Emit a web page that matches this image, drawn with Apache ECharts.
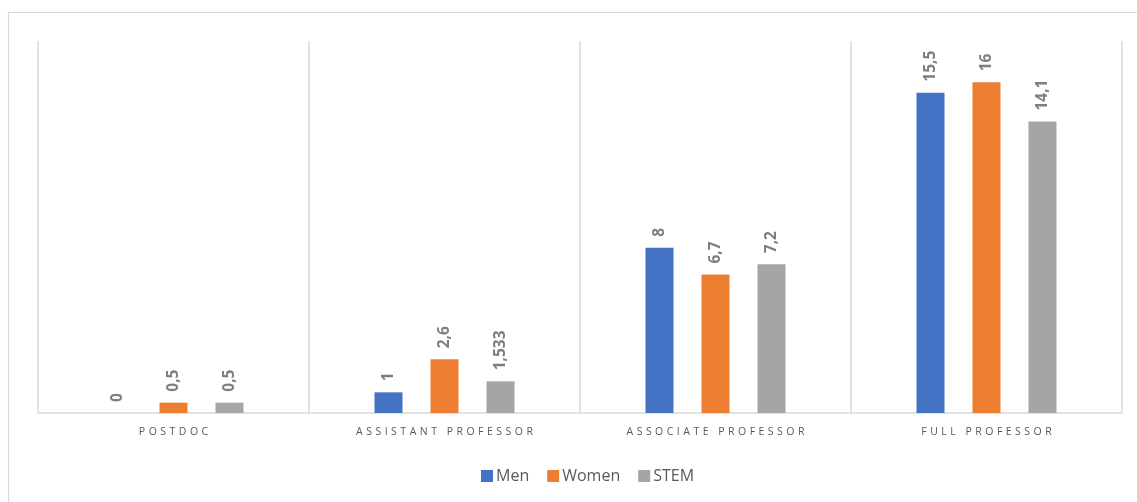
<!DOCTYPE html>
<html><head><meta charset="utf-8">
<script src="https://cdn.jsdelivr.net/npm/echarts@6/dist/echarts.min.js"></script>
<style>html,body{margin:0;padding:0;background:#fff}#c{width:1137px;height:502px}</style>
</head><body><div id="c"></div>
<script>
const categories = ['POSTDOC', 'ASSISTANT PROFESSOR', 'ASSOCIATE PROFESSOR', 'FULL PROFESSOR'];
const men = [0, 1, 8, 15.5];
const women = [0.5, 2.6, 6.7, 16];
const stem = [0.5, 1.533, 7.2, 14.1];
const seriesNames = ['Men', 'Women', 'STEM'];
const colors = ['#4472C4', '#ED7D31', '#A5A5A5'];

const chart = echarts.init(document.getElementById('c'), null, {renderer: 'canvas'});
const label = {
  show: true, position: 'top', rotate: 90, align: 'left', verticalAlign: 'middle',
  distance: 11, color: '#7F7F7F', fontWeight: 'bold', fontSize: 15.5,
  fontFamily: 'Open Sans, Calibri, sans-serif',
  formatter: p => String(p.value).replace('.', ',')
};
function mk(name, data, color) {
  return { name, type: 'bar', data, barWidth: 28, barGap: '100%',
    itemStyle: { color }, label, emphasis: { disabled: true } };
}
chart.setOption({
  animation: false,
  textStyle: { fontFamily: 'Open Sans, Calibri, sans-serif' },
  graphic: [{ type: 'rect', shape: { x: 8.5, y: 12.5, width: 1200, height: 600 },
    style: { fill: 'none', stroke: '#D9D9D9', lineWidth: 1.2 }, silent: true }],
  grid: { left: 38, right: 15, top: 41, bottom: 89 },
  legend: { bottom: 13, left: 476, itemWidth: 12, itemHeight: 12, itemGap: 18,
    icon: 'rect', textStyle: { color: '#595959', fontSize: 16, padding: [0, 0, 0, -2] },
    data: seriesNames },
  xAxis: { type: 'category', data: categories,
    axisLine: { lineStyle: { color: '#D9D9D9', width: 1.5 } },
    axisTick: { show: false },
    splitLine: { show: true, lineStyle: { color: '#D9D9D9', width: 1.5 } },
    axisLabel: { color: '#595959', fontSize: 10.5, margin: 14,
      formatter: v => v.split('').join('\u2009\u2009') } },
  yAxis: { type: 'value', min: 0, max: 18, show: false, splitLine: { show: false } },
  series: [mk(seriesNames[0], men, colors[0]), mk(seriesNames[1], women, colors[1]), mk(seriesNames[2], stem, colors[2])]
});
</script></body></html>
